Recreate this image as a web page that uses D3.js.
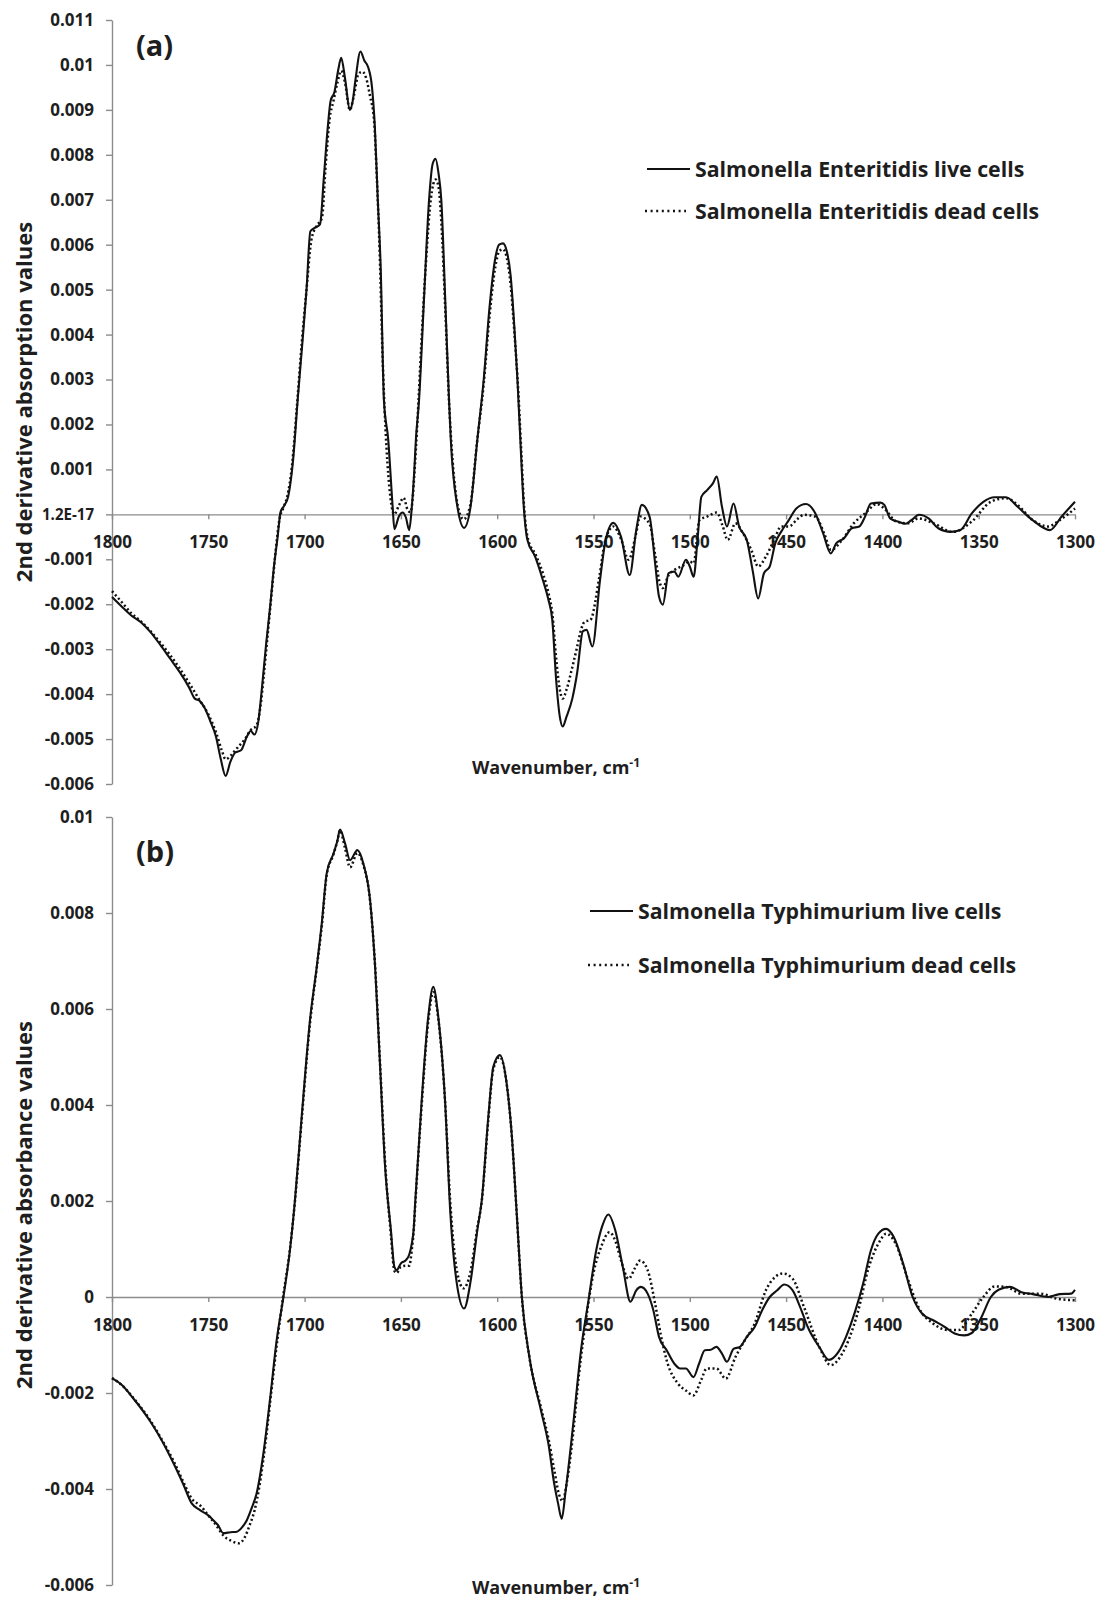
<!DOCTYPE html>
<html>
<head>
<meta charset="utf-8">
<script src="https://cdn.jsdelivr.net/npm/d3@7"></script>
<style>
body { margin: 0; background: #fff; }
svg text { font-family: "Open Sans", "Noto Sans", sans-serif; font-weight: 700; fill: #1e1e1e; }
</style>
</head>
<body>
<svg id="chart" width="1098" height="1599"></svg>
<script>
// ---- data ----
var xTicks = [1800, 1750, 1700, 1650, 1600, 1550, 1500, 1450, 1400, 1350, 1300];

var topYTicks = [-0.006, -0.005, -0.004, -0.003, -0.002, -0.001, 0, 0.001, 0.002, 0.003, 0.004, 0.005, 0.006, 0.007, 0.008, 0.009, 0.01, 0.011];
var topYLabels = ["-0.006", "-0.005", "-0.004", "-0.003", "-0.002", "-0.001", "1.2E-17", "0.001", "0.002", "0.003", "0.004", "0.005", "0.006", "0.007", "0.008", "0.009", "0.01", "0.011"];

var bottomYTicks = [-0.006, -0.004, -0.002, 0, 0.002, 0.004, 0.006, 0.008, 0.01];
var bottomYLabels = ["-0.006", "-0.004", "-0.002", "0", "0.002", "0.004", "0.006", "0.008", "0.01"];

var topLegend = ["Salmonella Enteritidis live cells", "Salmonella Enteritidis dead cells"];
var bottomLegend = ["Salmonella Typhimurium live cells", "Salmonella Typhimurium dead cells"];

// [wavenumber, 2nd derivative value]
var enteritidisLive = [
  [1800,-0.00184],[1795,-0.00205],[1790,-0.00225],[1785,-0.0024],[1780,-0.00262],[1775,-0.0029],[1770,-0.0032],
  [1765,-0.0035],[1760,-0.00385],[1757,-0.0041],[1754.5,-0.00415],[1752,-0.0043],[1749,-0.0046],[1746,-0.00495],
  [1743.5,-0.00545],[1741,-0.00582],[1738.5,-0.0055],[1736,-0.0053],[1733,-0.00525],[1730,-0.00495],[1728,-0.00482],
  [1726,-0.0049],[1724,-0.0046],[1722,-0.0038],[1720,-0.0029],[1718,-0.0021],[1716,-0.0012],[1714,-0.0005],
  [1712.5,0.00005],[1710.5,0.0002],[1708.5,0.0004],[1706,0.0012],[1703.5,0.0026],[1701,0.0039],[1699,0.005],
  [1697,0.0063],[1694.5,0.00638],[1692,0.00645],[1690,0.0075],[1688,0.0086],[1686.5,0.0092],[1684.5,0.0094],
  [1682.5,0.0099],[1681,0.01016],[1679,0.0097],[1676.5,0.009],[1675,0.0092],[1673.5,0.0097],[1671,0.0103],
  [1669,0.0101],[1667,0.00995],[1665,0.0095],[1663.5,0.0086],[1662,0.007],[1660.5,0.0055],[1658.8,0.00253],
  [1656.6,0.00167],[1654.3,0.00018],[1653.4,-0.00033],[1651,-0.00004],[1649.1,0.00004],[1647.4,-0.00007],
  [1645.7,-0.00035],[1644.3,0.00018],[1643.1,0.00093],[1642.2,0.00167],[1640.6,0.00253],[1638,0.0048],
  [1635.4,0.00698],[1633.5,0.0078],[1632,0.00791],[1630.5,0.0076],[1629,0.00698],[1627,0.0048],[1625,0.00253],
  [1624.1,0.00167],[1620.7,0.00018],[1617.2,-0.0003],[1613.8,0.00018],[1610.3,0.00167],[1607,0.003],[1604,0.0046],
  [1601,0.0057],[1599,0.006],[1597,0.00603],[1595,0.00585],[1593,0.0053],[1591,0.0041],[1589.5,0.003],
  [1588,0.00167],[1586.2,0.00017],[1584.3,-0.00057],[1580.3,-0.00094],[1576.3,-0.00146],[1573.4,-0.0019],
  [1571.4,-0.00235],[1569.4,-0.00368],[1567.5,-0.0045],[1566,-0.00472],[1564,-0.0045],[1561,-0.0041],
  [1558.5,-0.00353],[1555.5,-0.0026],[1553.6,-0.00257],[1550.6,-0.00294],[1546.6,-0.00146],[1543.7,-0.00057],
  [1539.7,-0.00019],[1535.7,-0.0005],[1531.2,-0.00135],[1527.8,-0.00035],[1524.9,0.00021],[1520.9,-0.00005],
  [1518,-0.00109],[1516,-0.00183],[1514,-0.00201],[1511,-0.00131],[1508,-0.00127],[1506,-0.00139],[1502,-0.00101],
  [1500,-0.00116],[1498,-0.00139],[1496,-0.00057],[1494,0.00039],[1491,0.00054],[1488,0.00069],[1486,0.00084],
  [1483.3,0.00017],[1480.7,-0.00027],[1477.3,0.00024],[1474.4,-0.00027],[1470.4,-0.00057],[1467.4,-0.00124],
  [1464.5,-0.00187],[1461.5,-0.00131],[1458.5,-0.00116],[1455.6,-0.00064],[1452.6,-0.00039],[1448.6,-0.00013],
  [1444.7,0.00013],[1439.7,0.00023],[1434.8,0.00002],[1430.8,-0.00042],[1426.8,-0.00087],[1423.9,-0.00064],
  [1419.9,-0.00053],[1415.9,-0.00031],[1412,-0.00027],[1409,-0.00005],[1406,0.00024],[1401,0.00026],[1399,0.00021],
  [1396,-0.00009],[1392,-0.00016],[1388,-0.00021],[1385,-0.00013],[1381,-0.00001],[1376,-0.00009],[1371,-0.00031],
  [1364.5,-0.00039],[1359.5,-0.00035],[1353.6,0.00002],[1347.6,0.00028],[1341.7,0.00038],[1335.8,0.00038],
  [1329.8,0.00017],[1322,-0.00013],[1313,-0.00035],[1307,-0.00005],[1300,0.00028]
];

var enteritidisDead = [
  [1800,-0.00171],[1795,-0.00195],[1790,-0.0022],[1785,-0.00238],[1780,-0.0026],[1775,-0.00285],[1770,-0.00312],
  [1765,-0.00342],[1760,-0.00375],[1755,-0.0041],[1750,-0.00445],[1746,-0.00485],[1743,-0.00525],[1741,-0.00545],
  [1738,-0.00535],[1735,-0.0052],[1731,-0.005],[1728,-0.0048],[1725,-0.0047],[1723,-0.0043],[1721,-0.0035],
  [1719,-0.0026],[1717,-0.0017],[1715,-0.0008],[1713,-0.0001],[1711,0.00015],[1709,0.0004],[1706.5,0.0011],
  [1704,0.0024],[1701.5,0.0038],[1699,0.005],[1696.5,0.0061],[1694,0.0064],[1691,0.0066],[1689,0.0078],
  [1687,0.0088],[1685,0.0092],[1683,0.0096],[1681,0.00987],[1679,0.0096],[1676.5,0.009],[1674.5,0.0093],
  [1672,0.0098],[1670,0.00985],[1668,0.0097],[1666,0.0093],[1664,0.0088],[1662.5,0.0075],[1661,0.0058],
  [1659.5,0.0035],[1657.5,0.0015],[1655.5,0.0004],[1653.5,0.0],[1651,0.0002],[1648.6,0.00037],[1646.5,0.0001],
  [1645,0.00005],[1644,0.0003],[1643,0.0009],[1641.5,0.002],[1639.5,0.0037],[1637,0.0056],[1634.5,0.007],
  [1632,0.00745],[1630.5,0.0073],[1629,0.0065],[1627,0.0046],[1625,0.0025],[1623.5,0.0014],[1620.5,0.0002],
  [1617.5,-0.00011],[1614,0.0002],[1610.5,0.0016],[1607,0.0029],[1604,0.0044],[1601,0.0055],[1599,0.00585],
  [1597,0.0059],[1595,0.0057],[1593,0.0051],[1591,0.004],[1589,0.0027],[1587.5,0.0014],[1586,0.00015],
  [1584,-0.00055],[1580,-0.0009],[1576,-0.00135],[1573.4,-0.00175],[1571.4,-0.0022],[1569.4,-0.0032],
  [1567.5,-0.0039],[1566,-0.0041],[1564,-0.0039],[1561,-0.0034],[1558.5,-0.00295],[1556.5,-0.00257],
  [1554.6,-0.00239],[1551.6,-0.00235],[1547,-0.0014],[1544,-0.0006],[1539.7,-0.00027],[1535.7,-0.00055],
  [1531.8,-0.00101],[1528,-0.00045],[1525.8,-0.00005],[1521,-0.0002],[1518,-0.0009],[1516,-0.00145],
  [1514,-0.00164],[1511,-0.00135],[1508,-0.00124],[1504,-0.00115],[1500,-0.00105],[1498,-0.00109],
  [1495,-0.00013],[1491,-0.00005],[1486,0.00004],[1483,-0.00025],[1480.3,-0.00057],[1476.3,-0.0002],
  [1472.4,-0.00042],[1468,-0.0008],[1464.5,-0.00116],[1460.5,-0.00094],[1456,-0.00055],[1452.6,-0.00027],
  [1448.6,-0.00027],[1444,-0.0001],[1440.7,-0.00001],[1434.8,-0.00005],[1430,-0.00045],[1426.8,-0.00079],
  [1420.9,-0.00057],[1414.9,-0.0002],[1409,0.00002],[1403,0.00023],[1399,0.00013],[1392.8,-0.00016],
  [1386.8,-0.0002],[1381.3,-0.00009],[1373.4,-0.0002],[1363.5,-0.00039],[1353.6,-0.00016],[1343.7,0.00028],
  [1335.8,0.00036],[1329.8,0.00021],[1321.9,-0.00013],[1314,-0.00027],[1308,-0.00013],[1300,0.00013]
];

var typhimuriumLive = [
  [1800,-0.00169],[1795,-0.00183],[1789,-0.00211],[1780,-0.0026],[1774,-0.003],[1768,-0.00347],[1763,-0.0039],
  [1758.6,-0.0043],[1754.3,-0.00444],[1750,-0.00455],[1747.4,-0.00465],[1745,-0.00475],[1742.2,-0.00492],
  [1738.5,-0.0049],[1735.2,-0.00489],[1732.5,-0.0048],[1730,-0.00465],[1727.5,-0.0044],[1724.9,-0.00409],
  [1721.4,-0.00326],[1718,-0.00215],[1714.5,-0.0009],[1711,0.0],[1707.6,0.00098],[1705,0.00202],[1701.5,0.00376],
  [1697.2,0.00577],[1693.7,0.00688],[1691.1,0.00778],[1688.5,0.00883],[1685,0.00924],[1683,0.0095],[1681.6,0.00974],
  [1679,0.00945],[1676.4,0.0091],[1672.6,0.00931],[1669.5,0.00903],[1666,0.00827],[1663.4,0.00688],[1660.8,0.0048],
  [1658.2,0.00271],[1655.2,0.0014],[1653.4,0.00063],[1652.2,0.00056],[1650,0.0007],[1647.4,0.00077],[1645.7,0.00088],
  [1644.3,0.00112],[1643.4,0.0014],[1642.5,0.00202],[1639.2,0.0041],[1635.8,0.00584],[1633.2,0.00646],
  [1630.6,0.00584],[1627.1,0.0041],[1624.4,0.0018],[1620.7,0.00021],[1617.2,-0.00024],[1613.8,0.00033],
  [1610.3,0.0014],[1608,0.00202],[1604.6,0.00376],[1602,0.0048],[1598.6,0.00504],[1595.1,0.00445],[1592.5,0.00341],
  [1589.8,0.0017],[1587.2,0.0],[1583.3,-0.00125],[1577.3,-0.00236],[1573.4,-0.00306],[1570.4,-0.00389],
  [1568.4,-0.0043],[1566.5,-0.00462],[1564.5,-0.00405],[1560.5,-0.00264],[1556.5,-0.00111],[1552.6,-0.00007],
  [1548.6,0.00097],[1545.6,0.00146],[1542.3,0.00172],[1538.7,0.00139],[1534.8,0.00063],[1530.8,-0.0001],
  [1527.8,0.00014],[1525.4,0.00021],[1521.9,0.00007],[1518.9,-0.00028],[1516,-0.00083],[1512,-0.00111],
  [1508,-0.00139],[1505,-0.00149],[1502,-0.00149],[1498.1,-0.00167],[1495.2,-0.00139],[1492.2,-0.00111],
  [1489.2,-0.0011],[1486.2,-0.00104],[1483.3,-0.00118],[1480.7,-0.00135],[1477.3,-0.00108],[1474,-0.00104],
  [1470.4,-0.00083],[1466.4,-0.00063],[1462.5,-0.00028],[1458.5,0.0],[1454.6,0.00014],[1451,0.00026],
  [1446.6,0.00014],[1442.7,-0.00021],[1438.7,-0.00063],[1432.8,-0.00104],[1427.8,-0.00131],[1422.9,-0.00115],
  [1418.9,-0.00083],[1414,-0.00028],[1410,0.00028],[1406,0.00097],[1402.1,0.00132],[1398.1,0.00142],
  [1394.1,0.00125],[1389.2,0.00069],[1384.3,0.0],[1379.3,-0.00035],[1373.4,-0.00049],[1367.4,-0.00063],
  [1362.5,-0.00076],[1357.5,-0.0008],[1353.6,-0.00075],[1348.6,-0.00042],[1343.7,0.0],[1339.7,0.00015],
  [1333.8,0.00021],[1327.8,0.0001],[1321.9,0.00006],[1314,0.0],[1308,0.00006],[1302.1,0.00007],[1300,0.00015]
];

var typhimuriumDead = [
  [1800,-0.00169],[1795,-0.00183],[1789,-0.0021],[1780,-0.00258],[1774,-0.00298],[1768,-0.00342],[1763,-0.00385],
  [1758.6,-0.0042],[1754,-0.00435],[1750,-0.00455],[1746,-0.00475],[1742,-0.00498],[1738,-0.00508],[1734,-0.00513],
  [1731,-0.005],[1728.5,-0.00475],[1726,-0.00445],[1723.5,-0.00395],[1720.5,-0.0031],[1717.5,-0.00205],
  [1714,-0.00085],[1711,0.00005],[1707.6,0.001],[1705,0.002],[1701.5,0.0037],[1697.2,0.0057],[1693.7,0.00685],
  [1691,0.00775],[1688.5,0.0088],[1685,0.00922],[1683,0.0095],[1681.6,0.00972],[1679,0.00935],[1676.4,0.00895],
  [1672.6,0.00925],[1669.5,0.009],[1666,0.00825],[1663.4,0.0069],[1660.8,0.00485],[1658.2,0.0028],[1655.2,0.0013],
  [1653.4,0.00055],[1652.2,0.0005],[1650,0.00063],[1647.4,0.00065],[1645.7,0.00065],[1644.3,0.001],[1643.4,0.00135],
  [1642.5,0.00195],[1639.2,0.004],[1635.8,0.00575],[1633.2,0.00635],[1630.6,0.0058],[1627.1,0.0041],[1624.4,0.002],
  [1620.7,0.0005],[1617.5,0.00018],[1614,0.0005],[1610.3,0.00145],[1608,0.002],[1604.6,0.0037],[1602,0.00475],
  [1598.6,0.005],[1595.1,0.00445],[1592.5,0.0034],[1589.8,0.0017],[1587.2,0.0],[1583.3,-0.00125],[1577.3,-0.0023],
  [1573.4,-0.00295],[1570.4,-0.0036],[1568,-0.0041],[1566,-0.00425],[1564,-0.0039],[1561,-0.003],[1557.5,-0.0016],
  [1554,-0.0005],[1550,0.0005],[1546,0.00105],[1541.7,0.00135],[1538.5,0.00115],[1535.7,0.00076],[1531.8,0.00038],
  [1528.5,0.0006],[1525.8,0.00076],[1521.9,0.00056],[1518,-0.00014],[1515,-0.0008],[1512,-0.00132],[1506,-0.00181],
  [1502,-0.00195],[1498.1,-0.00205],[1494.2,-0.00174],[1491.2,-0.00149],[1486.2,-0.00149],[1481.3,-0.0017],
  [1476.3,-0.00125],[1471.4,-0.0009],[1466.4,-0.00056],[1460.5,0.00014],[1455.6,0.00042],[1451.6,0.00049],
  [1446.6,0.00038],[1440.7,-0.00021],[1432.8,-0.00104],[1426.8,-0.00142],[1420.9,-0.00118],[1413,-0.00035],
  [1407,0.00063],[1401.1,0.00118],[1398.1,0.00132],[1393.1,0.00111],[1387.2,0.00042],[1381.3,-0.00021],
  [1373.4,-0.00056],[1365.5,-0.00069],[1360.5,-0.00069],[1353.6,-0.00035],[1347.6,0.0],[1341.7,0.00022],
  [1335.8,0.00021],[1327.8,0.00007],[1318,0.00007],[1310,-0.00003],[1300,-0.00007]
];

// ---- drawing ----
var svg = d3.select("#chart");
svg.append("rect").attr("width", 1098).attr("height", 1599).attr("fill", "#fff");

var axisColor = "#8c8c8c";
var dotDash = "2,2.6";

function drawPanel(cfg) {
    var x = d3.scaleLinear().domain([1800, 1300]).range([112, 1075]);
    var y = d3.scaleLinear().domain(cfg.yDomain).range(cfg.yRange);
    var g = svg.append("g");

    // y axis
    var yAxis = d3.axisLeft(y)
        .tickValues(cfg.yTicks)
        .tickFormat(function (d, i) { return cfg.yLabels[i]; })
        .tickSizeInner(6)
        .tickSizeOuter(0)
        .tickPadding(12);
    var ya = g.append("g").attr("transform", "translate(" + x(1800) + ",0)").call(yAxis);
    ya.selectAll("text").attr("font-size", 17).attr("fill", "#1e1e1e");
    // the long "1.2E-17" label is squeezed in the original
    ya.selectAll("text").filter(function () { return this.textContent.length > 6; })
        .attr("font-size", 16)
        .attr("textLength", 52)
        .attr("lengthAdjust", "spacingAndGlyphs");

    // x axis sits on the zero line
    var xAxis = d3.axisBottom(x)
        .tickValues(xTicks)
        .tickFormat(d3.format("d"))
        .tickSizeInner(5)
        .tickSizeOuter(0);
    var xa = g.append("g").attr("transform", "translate(0," + y(0) + ")").call(xAxis);
    xa.selectAll("text").attr("font-size", 17).attr("fill", "#1e1e1e")
        .attr("y", 28).attr("dy", "0.36em");

    g.selectAll(".domain, .tick line").attr("stroke", axisColor).attr("stroke-width", 1.4);
    g.selectAll("text").style("font-family", null);

    var line = d3.line()
        .x(function (d) { return x(d[0]); })
        .y(function (d) { return y(d[1]); })
        .curve(d3.curveMonotoneX);

    g.append("path").datum(cfg.dead)
        .attr("d", line)
        .attr("fill", "none")
        .attr("stroke", "#111")
        .attr("stroke-width", 2.5)
        .attr("stroke-dasharray", dotDash);
    g.append("path").datum(cfg.live)
        .attr("d", line)
        .attr("fill", "none")
        .attr("stroke", "#111")
        .attr("stroke-width", 2.1);

    // panel letter
    g.append("text").attr("x", 136).attr("y", cfg.letterY)
        .attr("font-size", 29).text(cfg.letter);

    // y title
    g.append("text")
        .attr("transform", "translate(32," + cfg.yTitleY + ") rotate(-90)")
        .attr("text-anchor", "middle")
        .attr("font-size", 22)
        .text(cfg.yTitle);

    // x title
    var xt = g.append("text").attr("x", 556).attr("y", cfg.xTitleY)
        .attr("text-anchor", "middle").attr("font-size", 18);
    xt.append("tspan").text("Wavenumber, cm");
    xt.append("tspan").attr("font-size", 12).attr("dy", -7).text("-1");

    // legend
    var lg = g.append("g");
    lg.append("line")
        .attr("x1", cfg.legX).attr("x2", cfg.legX + 43)
        .attr("y1", cfg.legY).attr("y2", cfg.legY)
        .attr("stroke", "#111").attr("stroke-width", 2.1);
    lg.append("line")
        .attr("x1", cfg.legX - 2).attr("x2", cfg.legX + 39)
        .attr("y1", cfg.legY + cfg.legGap).attr("y2", cfg.legY + cfg.legGap)
        .attr("stroke", "#111").attr("stroke-width", 2.5)
        .attr("stroke-dasharray", "2,3.6");
    lg.selectAll("text.leg").data(cfg.legend).enter().append("text")
        .attr("class", "leg")
        .attr("x", cfg.legX + 48)
        .attr("y", function (d, i) { return cfg.legY + i * cfg.legGap + 7.5; })
        .attr("font-size", 21.3)
        .text(function (d) { return d; });
}

drawPanel({
    yDomain: [-0.006, 0.011], yRange: [784, 20],
    yTicks: topYTicks, yLabels: topYLabels,
    live: enteritidisLive, dead: enteritidisDead,
    letter: "(a)", letterY: 56,
    yTitle: "2nd derivative absorption values", yTitleY: 402,
    xTitleY: 774,
    legend: topLegend, legX: 647, legY: 169, legGap: 42
});

drawPanel({
    yDomain: [-0.006, 0.01], yRange: [1585, 817],
    yTicks: bottomYTicks, yLabels: bottomYLabels,
    live: typhimuriumLive, dead: typhimuriumDead,
    letter: "(b)", letterY: 862,
    yTitle: "2nd derivative absorbance values", yTitleY: 1205,
    xTitleY: 1594,
    legend: bottomLegend, legX: 590, legY: 911, legGap: 54
});
</script>
</body>
</html>
